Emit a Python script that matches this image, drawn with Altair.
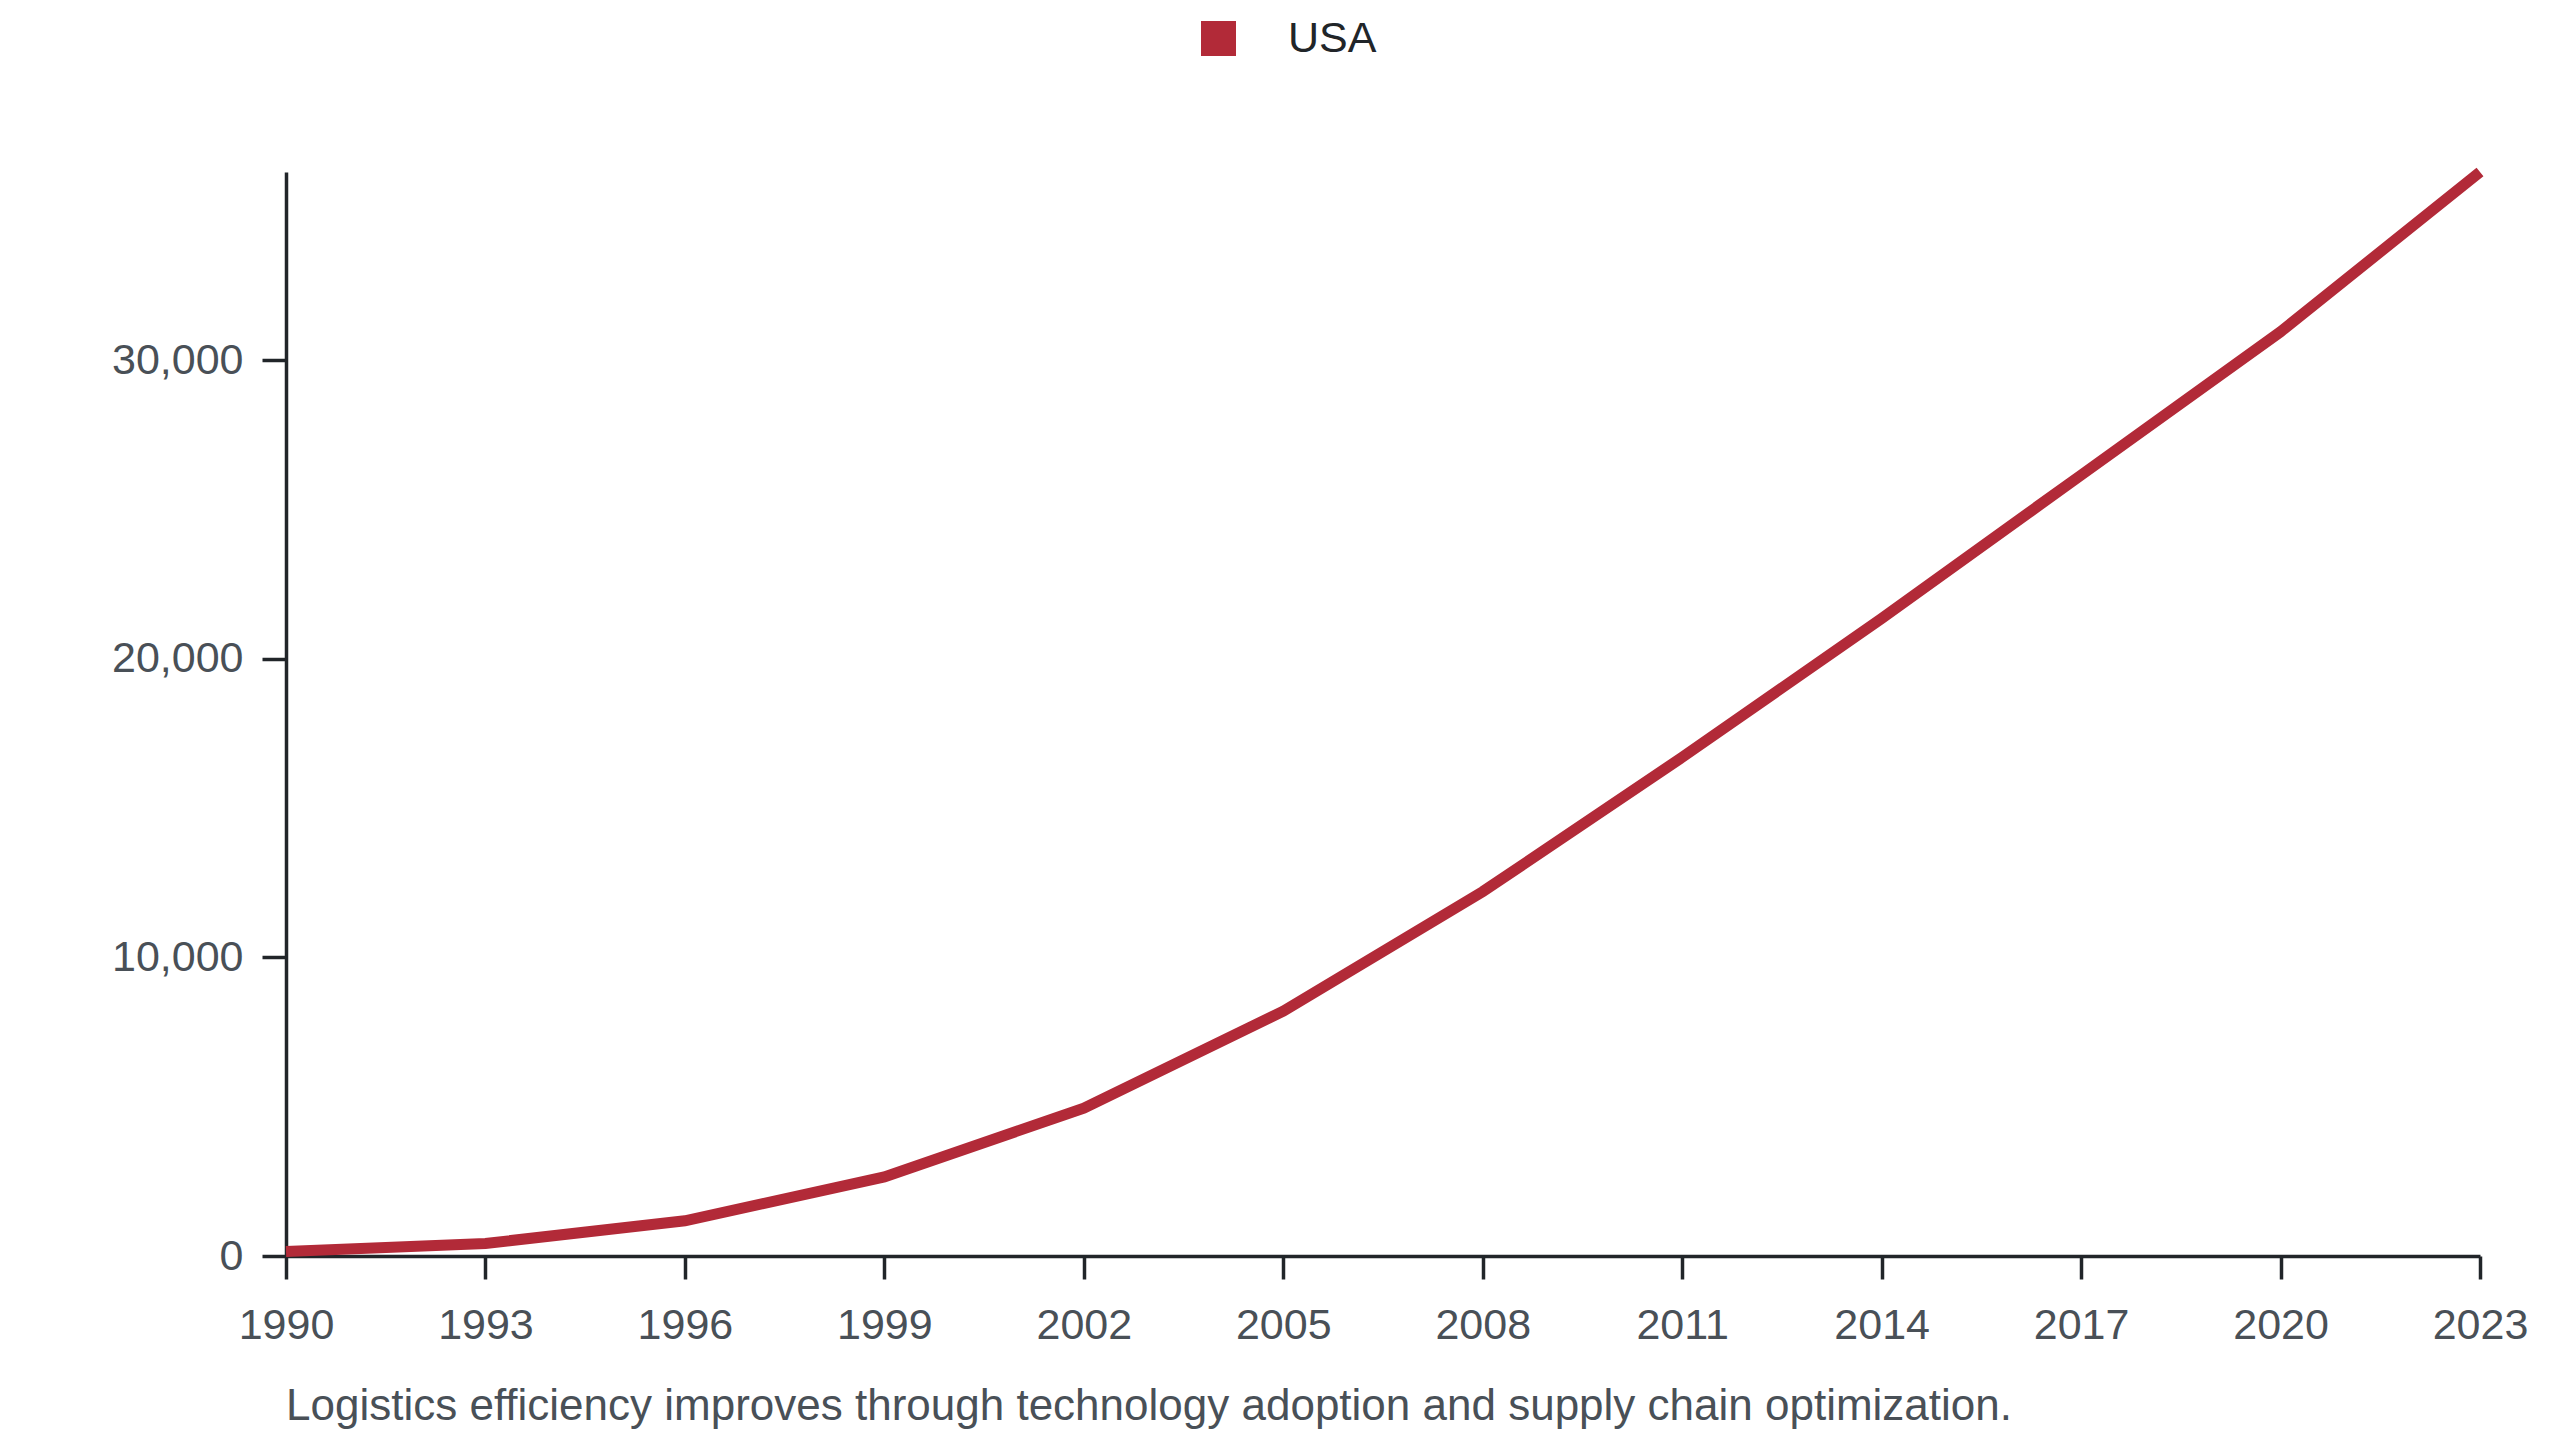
import altair as alt
import pandas as pd

years = [1990, 1993, 1996, 1999, 2002, 2005, 2008, 2011, 2014, 2017, 2020, 2023]
values = [150, 420, 1180, 2650, 4950, 8200, 12200, 16700, 21350, 26150, 30950, 36300]
series = ["USA"] * len(years)
x_ticks = [1990, 1993, 1996, 1999, 2002, 2005, 2008, 2011, 2014, 2017, 2020, 2023]
y_ticks = [0, 10000, 20000, 30000]
caption = "Logistics efficiency improves through technology adoption and supply chain optimization."

df = pd.DataFrame({"year": years, "value": values, "country": series})

FONT = "Liberation Sans"
AXIS_COLOR = "#212529"
LABEL_COLOR = "#495057"
RED = "#b22a38"

chart = (
    alt.Chart(df)
    .mark_line(strokeWidth=11, strokeCap="butt", strokeJoin="miter")
    .encode(
        x=alt.X(
            "year:Q",
            scale=alt.Scale(domain=[1990, 2023], nice=False, zero=False),
            axis=alt.Axis(
                values=x_ticks,
                format="d",
                title=None,
                grid=False,
                labelFontSize=43,
                labelColor=LABEL_COLOR,
                labelFont=FONT,
                labelPadding=25,
                tickSize=23,
                tickWidth=3.5,
                tickColor=AXIS_COLOR,
                domainWidth=3.5,
                domainColor=AXIS_COLOR,
                labelFlush=False,
                labelOverlap=False,
            ),
        ),
        y=alt.Y(
            "value:Q",
            scale=alt.Scale(domain=[0, 36300], nice=False),
            axis=alt.Axis(
                values=y_ticks,
                format=",d",
                title=None,
                grid=False,
                labelFontSize=43,
                labelColor=LABEL_COLOR,
                labelFont=FONT,
                labelPadding=19,
                tickSize=24,
                tickWidth=3.5,
                tickColor=AXIS_COLOR,
                domainWidth=3.5,
                domainColor=AXIS_COLOR,
            ),
        ),
        color=alt.Color(
            "country:N",
            scale=alt.Scale(domain=["USA"], range=[RED]),
            legend=alt.Legend(
                title=None,
                orient="none",
                legendX=911,
                legendY=-155,
                direction="horizontal",
                symbolType="square",
                symbolSize=1225,
                symbolFillColor=RED,
                symbolStrokeColor=RED,
                symbolStrokeWidth=0,
                labelFontSize=43,
                labelFont=FONT,
                labelColor=AXIS_COLOR,
                labelOffset=48,
                padding=0,
            ),
        ),
    )
    .properties(
        width=2194,
        height=1084,
        autosize=alt.AutoSizeParams(type="none"),
        padding={"left": 278, "top": 164, "right": 60, "bottom": 175},
        title=alt.TitleParams(
            caption,
            orient="bottom",
            anchor="start",
            frame="group",
            fontSize=44,
            font=FONT,
            fontWeight="normal",
            color=LABEL_COLOR,
            offset=38,
        ),
    )
    .configure_view(stroke=None)
)

chart.save("out.html", embed_options={"renderer": "svg", "actions": False})
